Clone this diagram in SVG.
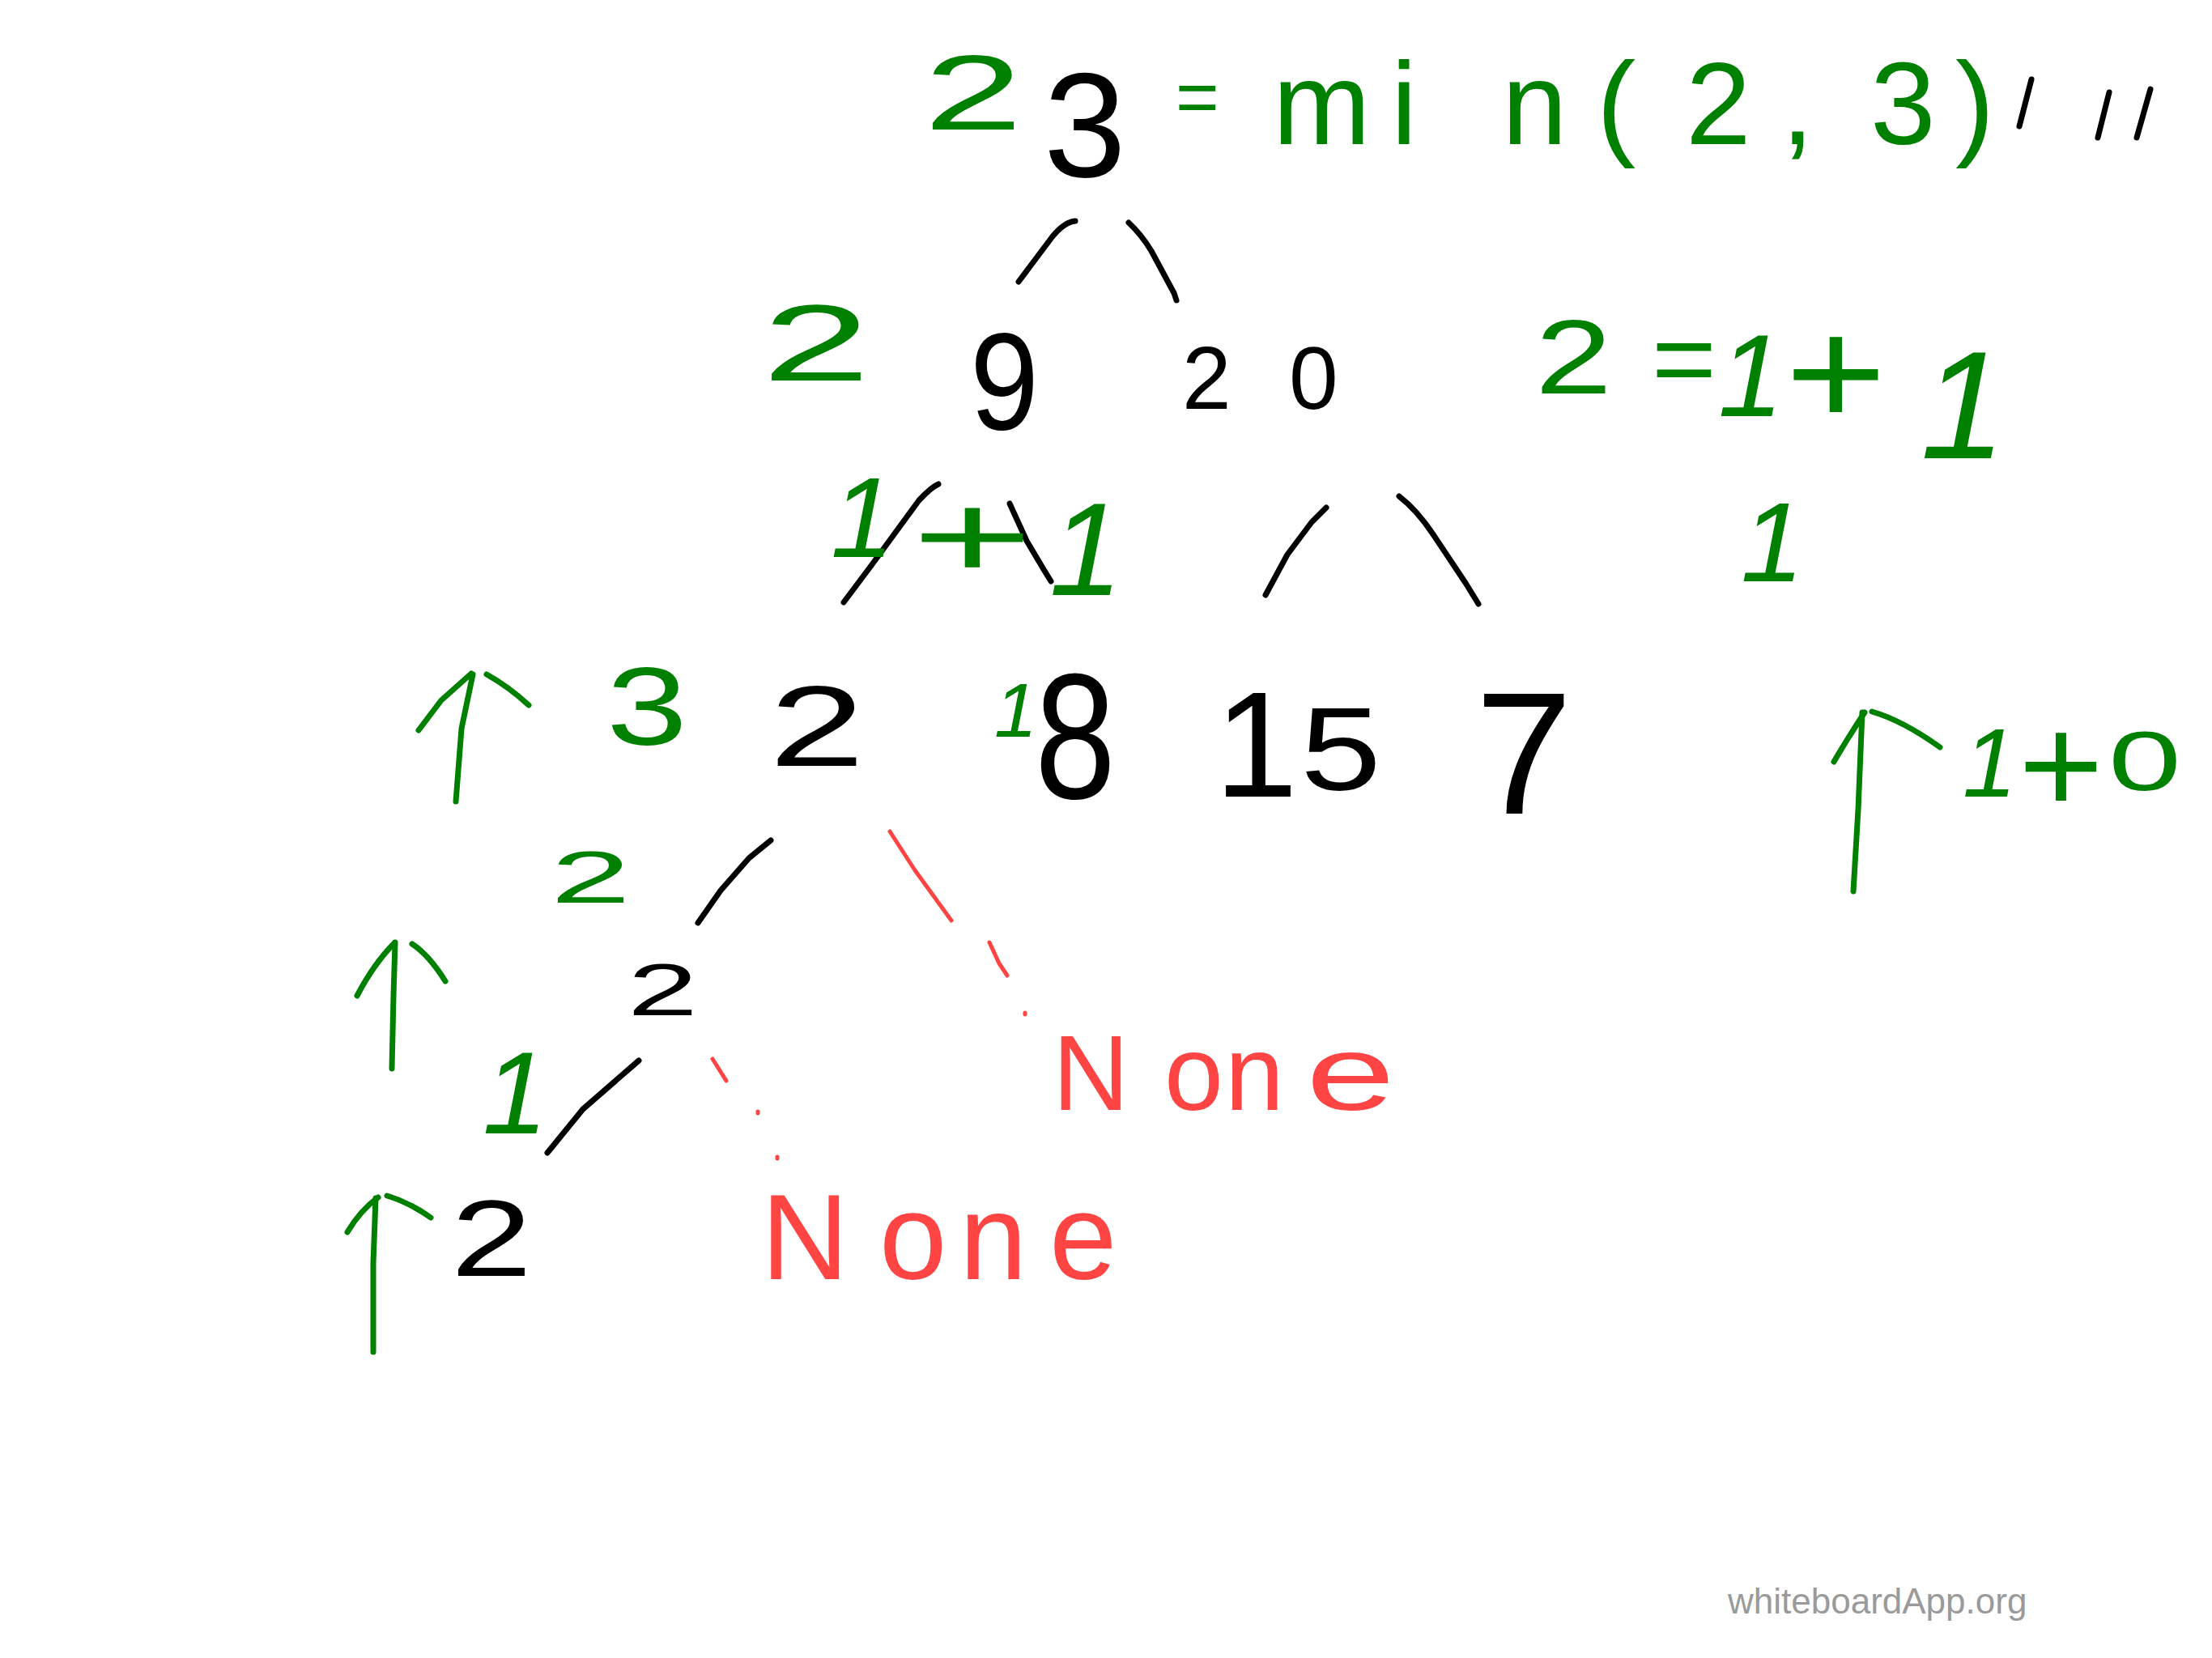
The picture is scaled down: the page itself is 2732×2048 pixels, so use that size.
<svg xmlns="http://www.w3.org/2000/svg" width="2732" height="2048" viewBox="0 0 2732 2048">
<style>
text{font-family:"Liberation Sans",Arial,sans-serif}
.g{fill:#008000}
.k{fill:#000000}
.r{fill:#ff4444}
.it{font-style:italic}
.edge{fill:none;stroke:#000;stroke-width:7;stroke-linecap:round;stroke-linejoin:round}
.redge{fill:none;stroke:#ff4444;stroke-width:5;stroke-linecap:round;stroke-linejoin:round}
.arrow{fill:none;stroke:#008000;stroke-width:7;stroke-linecap:round;stroke-linejoin:round}
.wm{fill:#9a9a9a;font-size:44px}
</style>
<rect x="0" y="0" width="2732" height="2048" fill="#ffffff"/>

<g id="connectors">
<path class="edge" d="M1258,348 L1300,292 Q1315,274 1328,273"/>
<path class="edge" d="M1394,275 Q1410,290 1422,310 L1450,362 L1453,371"/>
<path class="edge" d="M1042,744 L1075,700 L1135,618 Q1150,602 1159,598"/>
<path class="edge" d="M1247,622 L1268,668 L1290,705 L1298,718"/>
<path class="edge" d="M1563,735 L1590,685 L1620,645 L1638,627"/>
<path class="edge" d="M1728,613 Q1750,630 1770,660 L1810,720 L1826,746"/>
<path class="edge" d="M862,1140 L890,1100 L925,1060 L952,1038"/>
<path class="edge" d="M676,1424 L720,1370 L789,1310"/>
<path class="redge" d="M1099,1027 L1130,1075 L1175,1137"/>
<path class="redge" d="M1222,1164 L1234,1190 L1244,1205"/>
<path class="redge" d="M1266,1251 L1266,1253"/>
<path class="redge" d="M880,1308 L897,1335"/>
<path class="redge" d="M936,1373 L936,1375"/>
<path class="redge" d="M960,1429 L960,1431"/>
</g>

<g id="node-3"><text class="k" x="1289" y="218" font-size="183">3</text></g>
<g id="node-9"><text class="k" x="1198" y="530" font-size="170" textLength="85" lengthAdjust="spacingAndGlyphs">9</text></g>
<g id="node-20"><text class="k" font-size="109" y="505"><tspan x="1460">2</tspan><tspan x="1592">0</tspan></text></g>
<g id="node-2"><text class="k" x="950" y="946" font-size="141" textLength="118" lengthAdjust="spacingAndGlyphs">2</text></g>
<g id="node-8"><text class="k" x="1278" y="986" font-size="220" textLength="100" lengthAdjust="spacingAndGlyphs">8</text></g>
<g id="node-15"><text class="k"><tspan x="1500" y="984" font-size="185">1</tspan><tspan x="1606" y="976" font-size="147" textLength="100" lengthAdjust="spacingAndGlyphs">5</tspan></text></g>
<g id="node-7"><text class="k" x="1822" y="1005" font-size="216">7</text></g>
<g id="node-2-mid"><text class="k" x="775" y="1254" font-size="91" textLength="87" lengthAdjust="spacingAndGlyphs">2</text></g>
<g id="node-2-leaf"><text class="k" x="557" y="1576" font-size="133" textLength="100" lengthAdjust="spacingAndGlyphs">2</text></g>
<g id="node-none-1"><text class="r" font-size="131" y="1371"><tspan x="1300">N</tspan><tspan x="1438">o</tspan><tspan x="1513">n</tspan><tspan x="1613" textLength="110" lengthAdjust="spacingAndGlyphs">e</tspan></text></g>
<g id="node-none-2"><text class="r" font-size="150" y="1580"><tspan x="940">N</tspan><tspan x="1086">o</tspan><tspan x="1185">n</tspan><tspan x="1296">e</tspan></text></g>

<g id="annotations">
<text class="g" x="1141" y="160" font-size="131" textLength="122" lengthAdjust="spacingAndGlyphs">2</text>
<text class="g" x="1452" y="152" font-size="92">=</text>
<text class="g" font-size="145" y="178"><tspan x="1572">m</tspan><tspan x="1718">i</tspan><tspan x="1855">n</tspan><tspan x="1972">(</tspan><tspan x="2082">2</tspan><tspan x="2200">,</tspan><tspan x="2310">3</tspan><tspan x="2415">)</tspan></text>
<path class="edge" d="M2509,98 L2494,156"/>
<path class="edge" d="M2605,114 L2591,170"/>
<path class="edge" d="M2656,110 L2639,170"/>

<text class="g" x="941" y="470" font-size="133" textLength="134" lengthAdjust="spacingAndGlyphs">2</text>
<text class="g"><tspan x="1896" y="486" font-size="130" textLength="95" lengthAdjust="spacingAndGlyphs">2</tspan><tspan x="2040" y="488" font-size="130" textLength="80" lengthAdjust="spacingAndGlyphs">=</tspan><tspan class="it" x="2122" y="514" font-size="145">1</tspan><tspan x="2205" y="526" font-size="190" textLength="125" lengthAdjust="spacingAndGlyphs">+</tspan><tspan class="it" x="2372" y="566" font-size="190">1</tspan></text>
<text class="g it" x="2150" y="718" font-size="140">1</text>

<text class="g"><tspan class="it" x="1026" y="688" font-size="141">1</tspan><tspan x="1126" y="714" font-size="150" textLength="150" lengthAdjust="spacingAndGlyphs">+</tspan><tspan class="it" x="1296" y="735" font-size="163">1</tspan></text>

<path class="arrow" d="M563,990 L570,900 L584,833"/>
<path class="arrow" d="M517,902 L545,865 L582,832 M601,833 Q628,848 653,871"/>
<text class="g" x="749" y="920" font-size="137" textLength="100" lengthAdjust="spacingAndGlyphs">3</text>
<text class="g it" x="1228" y="910" font-size="95">1</text>

<text class="g" x="680" y="1115" font-size="91" textLength="99" lengthAdjust="spacingAndGlyphs">2</text>
<path class="arrow" d="M484,1320 L486,1230 L488,1164"/>
<path class="arrow" d="M441,1230 Q462,1190 487,1165 M509,1166 Q530,1180 550,1212"/>
<text class="g it" x="596" y="1400" font-size="145">1</text>

<path class="arrow" d="M461,1670 L461,1560 L464,1480"/>
<path class="arrow" d="M429,1522 Q445,1495 467,1479 M478,1477 Q505,1485 532,1504"/>

<path class="arrow" d="M2289,1101 L2295,1000 L2300,880"/>
<path class="arrow" d="M2265,941 Q2280,915 2303,880 M2312,879 Q2350,890 2396,923"/>
<text class="g"><tspan class="it" x="2424" y="984" font-size="120">1</tspan><tspan x="2493" y="1004" font-size="170" textLength="105" lengthAdjust="spacingAndGlyphs">+</tspan><tspan x="2604" y="976" font-size="103" textLength="90" lengthAdjust="spacingAndGlyphs">0</tspan></text>
</g>

<text class="wm" x="2134" y="1993">whiteboardApp.org</text>
</svg>
